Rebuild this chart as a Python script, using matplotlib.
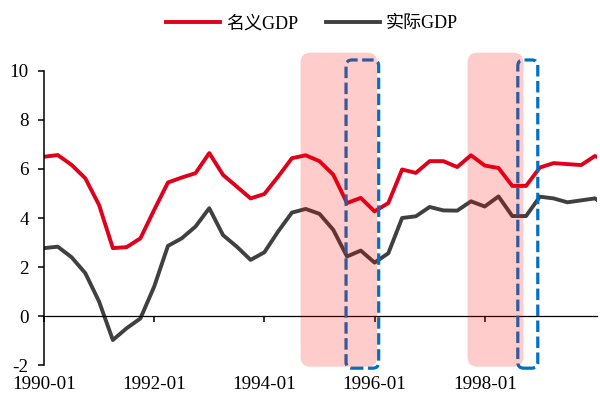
import numpy as np
import matplotlib
matplotlib.use('Agg')
import matplotlib.pyplot as plt
from matplotlib.patches import FancyBboxPatch

plt.rcParams['font.family'] = ['Liberation Serif', 'Noto Sans CJK SC']
plt.rcParams['axes.unicode_minus'] = False

# 季度同比增速(%), 1990Q1 起
nominal_gdp = [6.50, 6.57, 6.17, 5.62, 4.53, 2.77, 2.81, 3.17, 4.33, 5.45,
               5.65, 5.83, 6.65, 5.76, 5.28, 4.80, 4.98, 5.69, 6.44, 6.56,
               6.32, 5.77, 4.61, 4.82, 4.27, 4.61, 5.98, 5.84, 6.32, 6.32,
               6.08, 6.56, 6.14, 6.04, 5.31, 5.31, 6.06, 6.24, 6.20, 6.16,
               6.53, 6.30]
real_gdp = [2.77, 2.83, 2.40, 1.75, 0.59, -0.98, -0.50, -0.10, 1.20, 2.86,
            3.17, 3.65, 4.40, 3.30, 2.83, 2.29, 2.60, 3.45, 4.22, 4.37,
            4.17, 3.52, 2.43, 2.67, 2.18, 2.56, 4.00, 4.07, 4.45, 4.31,
            4.30, 4.68, 4.47, 4.88, 4.08, 4.08, 4.87, 4.80, 4.64, 4.72,
            4.80, 4.40]
tick_labels = ['1990-01', '1992-01', '1994-01', '1996-01', '1998-01']
tick_pos = [0, 8, 16, 24, 32]

# 阴影区间与虚线框(季度序号)
shade_spans = [(18.63, 24.2), (30.75, 34.8)]
box_spans = [(21.93, 24.3), (34.4, 35.85)]

x = np.arange(len(nominal_gdp))

fig = plt.figure(figsize=(6, 3.94), dpi=100)
ax = fig.add_axes([0.0733, 0.0736, 0.9217, 0.7462])

l1, = ax.plot(x, nominal_gdp, color='#E0001B', lw=2.8, label='名义GDP')
l2, = ax.plot(x, real_gdp, color='#404040', lw=2.8, label='实际GDP')

ax.set_xlim(0, 40.15)
ax.set_ylim(-2, 10)
ax.set_yticks(range(-2, 11, 2))
ax.set_xticks(tick_pos)
ax.set_xticklabels(tick_labels)

for s in ['top', 'right']:
    ax.spines[s].set_visible(False)
ax.spines['bottom'].set_position(('data', 0))
ax.spines['bottom'].set_linewidth(0.9)
ax.spines['left'].set_linewidth(1.1)
ax.tick_params(axis='x', direction='out', length=4, width=1.1, labelsize=13.8, pad=39)
ax.tick_params(axis='y', direction='out', length=4, width=1.1, labelsize=13.8, pad=7)

# 圆角需按坐标比例修正
asp = (1 / 24.5) / (1 / 13.83)
for a, b in box_spans:
    p = FancyBboxPatch((a, -2.13), b - a, 12.58,
                       boxstyle='round,pad=0,rounding_size=0.43',
                       mutation_aspect=asp, fill=False, ec='#0070C0',
                       lw=2.3, ls=(0, (3.6, 1.4)), clip_on=False, zorder=4)
    ax.add_patch(p)
for a, b in shade_spans:
    p = FancyBboxPatch((a, -2.07), b - a, 12.82,
                       boxstyle='round,pad=0,rounding_size=0.72',
                       mutation_aspect=asp, fc='#FF0000', alpha=0.2,
                       ec='none', clip_on=False, zorder=5)
    ax.add_patch(p)

fig.legend(handles=[l1, l2], loc='center', bbox_to_anchor=(0.52, 0.94),
           ncol=2, frameon=False, fontsize=13, handlelength=3.0,
           handletextpad=0.35, columnspacing=1.5)

fig.savefig('out.png', dpi=100)
